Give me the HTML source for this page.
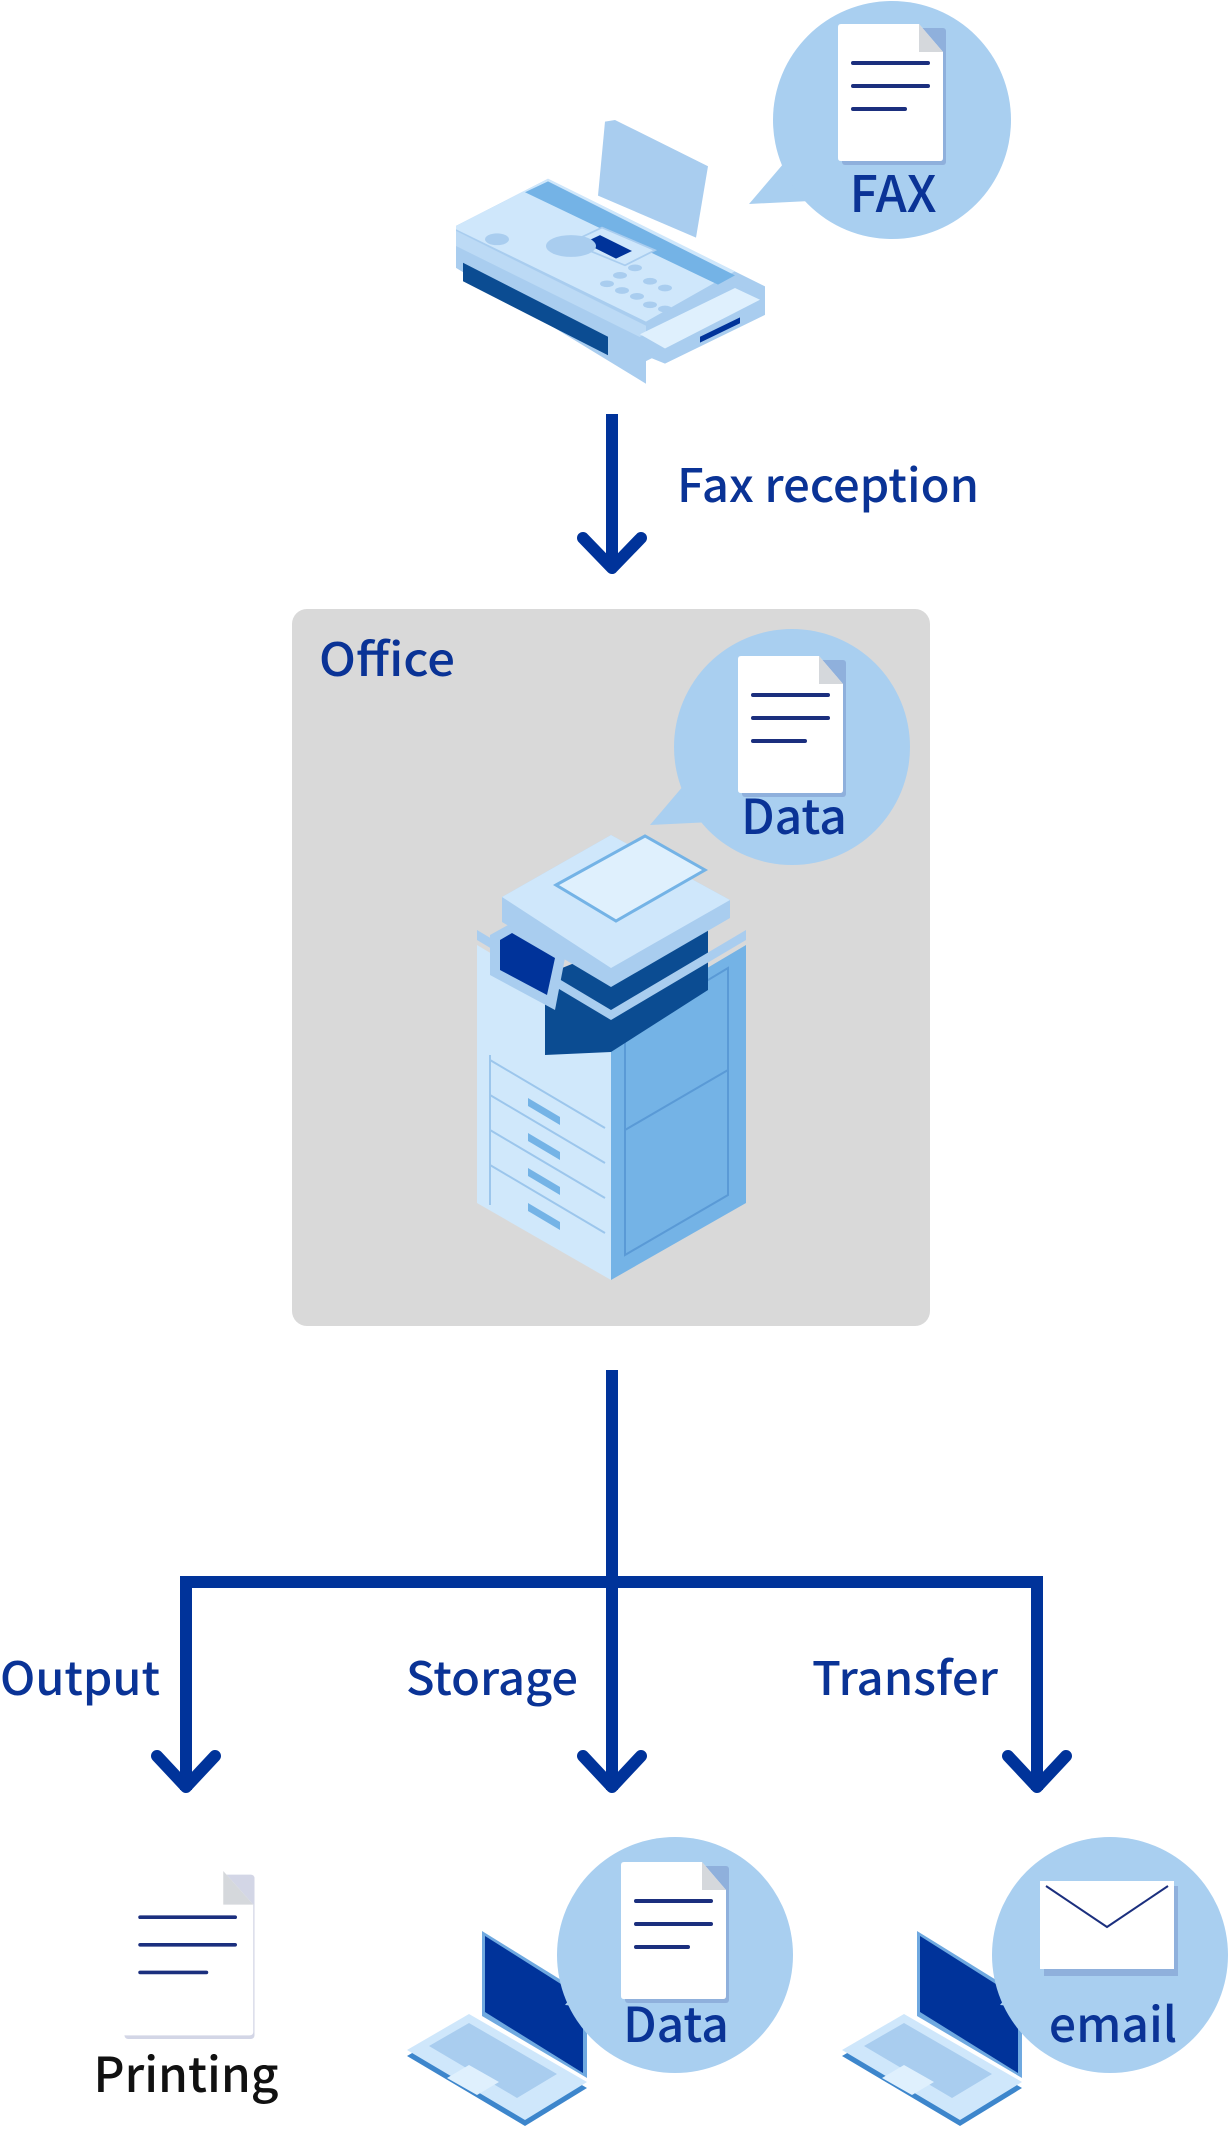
<!DOCTYPE html>
<html><head><meta charset="utf-8"><style>
html,body{margin:0;padding:0;background:#fff;}
svg{display:block;}
text{font-family:"Noto Sans CJK JP","Liberation Sans",sans-serif;font-weight:500;fill:#0a3396;}
</style></head><body>
<svg width="1232" height="2135" viewBox="0 0 1232 2135" xmlns="http://www.w3.org/2000/svg">
<defs>
<g id="doc">
  <rect x="4" y="4" width="104" height="137" rx="3" fill="#8fb0dc"/>
  <path d="M0,3 Q0,0 3,0 L81,0 L105,28 L105,134 Q105,137 102,137 L3,137 Q0,137 0,134 Z" fill="#fff"/>
  <path d="M81,0 L105,28 L81,28 Z" fill="#d5d8dc"/>
  <rect x="13" y="37" width="79" height="4" rx="2" fill="#1b2f7e"/>
  <rect x="13" y="60" width="79" height="4" rx="2" fill="#1b2f7e"/>
  <rect x="13" y="83" width="56" height="4" rx="2" fill="#1b2f7e"/>
</g>
<g id="laptop">
  <polygon points="0,128 62,92 180,160 118,198" fill="#3d86cc"/>
  <polygon points="0,122 62,86 180,154 118,192" fill="#cfe7fb"/>
  <polygon points="22,118 62,95 150,146 110,170" fill="#a9cdef"/>
  <polygon points="40,150 62,137 92,154 70,167" fill="#dff0fd"/>
  <polygon points="75,3 180,68 180,150 75,88" fill="#6fa9e0"/>
  <polygon points="78,8 176,70 176,145 78,84" fill="#00339a"/>
</g>
</defs>

<!-- FAX machine -->
<g transform="translate(0,19.2) scale(1,0.84)">
<polygon points="605,122 615,120 708,175 696,260 598,210" fill="#a9cdef"/>
<polygon points="456,246 548,190 765,318 765,336 646,407 646,434 456,296" fill="#a9cdef"/>
<polygon points="456,246 548,190 735,300 646,360 456,250" fill="#cfe7fb"/>
<polygon points="525,206 548,193 735,305 718,316" fill="#74b3e6"/>
<polygon points="463,290 608,378 608,400 463,312" fill="#0b4c92"/>
<polygon points="456,252 646,365 646,382 456,270" fill="#bcdaf5"/>
<polygon points="570,266 602,248 655,275 625,293" fill="#cfe7fb" stroke="#a9cdef" stroke-width="2"/>
<polygon points="584,266 600,257 632,276 616,285" fill="#00339a"/>
<ellipse cx="571" cy="270" rx="25" ry="13" fill="#a9cdef"/>
<ellipse cx="497" cy="262" rx="12" ry="7" fill="#a9cdef"/>
<g fill="#a9cdef">
<ellipse cx="620" cy="305" rx="7" ry="4"/><ellipse cx="635" cy="296" rx="7" ry="4"/><ellipse cx="650" cy="312" rx="7" ry="4"/>
<ellipse cx="607" cy="315" rx="7" ry="4"/><ellipse cx="622" cy="323" rx="7" ry="4"/><ellipse cx="637" cy="330" rx="7" ry="4"/>
<ellipse cx="650" cy="340" rx="7" ry="4"/><ellipse cx="665" cy="320" rx="7" ry="4"/><ellipse cx="665" cy="345" rx="7" ry="4"/>
</g>
<polygon points="640,378 740,318 765,336 765,352 665,410 640,398" fill="#a9cdef"/>
<polygon points="640,375 735,320 760,334 665,392" fill="#dff0fd"/>
<polygon points="700,378 740,355 740,362 700,385" fill="#00339a"/>
</g>

<!-- FAX bubble -->
<polygon points="749,204 790,156 810,201" fill="#a9cff0"/>
<circle cx="892" cy="120" r="119" fill="#a9cff0"/>
<use href="#doc" x="838" y="24"/>
<text x="893" y="212" text-anchor="middle" font-size="50">FAX</text>

<!-- Fax arrow -->
<line x1="612" y1="414" x2="612" y2="568" stroke="#00339a" stroke-width="12"/>
<polyline points="583,538 612,568 641,538" fill="none" stroke="#00339a" stroke-width="12" stroke-linecap="round" stroke-linejoin="round"/>
<text x="677" y="502" font-size="46" textLength="302" lengthAdjust="spacingAndGlyphs">Fax reception</text>

<!-- Office box -->
<rect x="292" y="609" width="638" height="717" rx="15" fill="#d9d9d9"/>
<text x="319" y="676" font-size="46" textLength="136" lengthAdjust="spacingAndGlyphs">Office</text>

<!-- Data bubble -->
<polygon points="650,825 690,778 712,822" fill="#a9cff0"/>
<circle cx="792" cy="747" r="118" fill="#a9cff0"/>
<use href="#doc" x="738" y="656"/>
<text x="794" y="834" text-anchor="middle" font-size="48">Data</text>

<!-- Copier -->
<polygon points="477,945 611,1025 611,1280 477,1203" fill="#d0e8fb"/>
<polygon points="611,1025 746,945 746,1203 611,1280" fill="#74b3e6"/>
<polygon points="625,1030 728,968 728,1195 625,1255" fill="none" stroke="#5a9ad6" stroke-width="2"/>
<line x1="625" y1="1130" x2="728" y2="1070" stroke="#5a9ad6" stroke-width="2"/>
<g stroke="#9cc6ec" stroke-width="2" fill="none">
<line x1="490" y1="1060" x2="605" y2="1128"/><line x1="490" y1="1095" x2="605" y2="1163"/>
<line x1="490" y1="1130" x2="605" y2="1198"/><line x1="490" y1="1165" x2="605" y2="1233"/>
<line x1="490" y1="1055" x2="490" y2="1205"/>
</g>
<g fill="#74b3e6">
<polygon points="528,1098 560,1117 560,1125 528,1106"/><polygon points="528,1133 560,1152 560,1160 528,1141"/>
<polygon points="528,1168 560,1187 560,1195 528,1176"/><polygon points="528,1203 560,1222 560,1230 528,1211"/>
</g>
<polygon points="545,975 680,920 708,930 708,990 611,1052 545,1055" fill="#0b4c92"/>
<polygon points="477,940 611,1020 746,940 746,930 611,1010 477,930" fill="#a9cdef"/>
<polygon points="502,897 611,835 730,900 730,918 611,987 502,922" fill="#a9cdef"/>
<polygon points="502,897 611,835 730,900 611,968" fill="#cfe7fb"/>
<polygon points="556,885 645,836 705,870 616,921" fill="#dff0fd" stroke="#74b3e6" stroke-width="3"/>
<polygon points="490,935 508,925 565,958 555,1010 490,975" fill="#a9cdef"/>
<polygon points="500,940 512,933 555,958 547,995 500,970" fill="#00339a"/>

<!-- Trunk -->
<line x1="612" y1="1370" x2="612" y2="1790" stroke="#00339a" stroke-width="12"/>
<polyline points="186,1790 186,1582 1037,1582 1037,1790" fill="none" stroke="#00339a" stroke-width="12"/>
<g fill="none" stroke="#00339a" stroke-width="12" stroke-linecap="round" stroke-linejoin="round">
<polyline points="157,1756 186,1787 215,1756"/>
<polyline points="583,1756 612,1787 641,1756"/>
<polyline points="1008,1756 1037,1787 1066,1756"/>
</g>
<text x="0" y="1695" font-size="46" textLength="160" lengthAdjust="spacingAndGlyphs">Output</text>
<text x="406" y="1695" font-size="46" textLength="172" lengthAdjust="spacingAndGlyphs">Storage</text>
<text x="812" y="1695" font-size="46" textLength="186" lengthAdjust="spacingAndGlyphs">Transfer</text>

<!-- Printing -->
<g transform="translate(122,1871) scale(1.25,1.2)">
  <rect x="2" y="3" width="104" height="137" rx="3" fill="#d3d6e6"/>
  <path d="M0,3 Q0,0 3,0 L81,0 L105,28 L105,134 Q105,137 102,137 L3,137 Q0,137 0,134 Z" fill="#fff"/>
  <path d="M81,0 L105,28 L81,28 Z" fill="#d5d8dc"/>
  <rect x="13" y="37" width="79" height="3" rx="1.5" fill="#1b2f7e"/>
  <rect x="13" y="60" width="79" height="3" rx="1.5" fill="#1b2f7e"/>
  <rect x="13" y="83" width="56" height="3" rx="1.5" fill="#1b2f7e"/>
</g>
<text x="186" y="2092" text-anchor="middle" font-size="48" style="fill:#111">Printing</text>

<!-- Storage laptop -->
<use href="#laptop" x="407" y="1928"/>
<polygon points="565,2005 610,1950 620,2010" fill="#a9cff0"/>
<circle cx="675" cy="1955" r="118" fill="#a9cff0"/>
<use href="#doc" x="621" y="1862"/>
<text x="676" y="2042" text-anchor="middle" font-size="48">Data</text>

<!-- Transfer laptop -->
<use href="#laptop" x="842" y="1928"/>
<polygon points="1000,2005 1045,1950 1055,2010" fill="#a9cff0"/>
<circle cx="1110" cy="1955" r="118" fill="#a9cff0"/>
<rect x="1044" y="1886" width="134" height="90" fill="#8fb0dc"/>
<rect x="1040" y="1881" width="134" height="88" fill="#fff"/>
<polyline points="1046,1886 1107,1927 1168,1886" fill="none" stroke="#1b2f7e" stroke-width="2"/>
<text x="1113" y="2042" text-anchor="middle" font-size="48">email</text>
</svg>
</body></html>
